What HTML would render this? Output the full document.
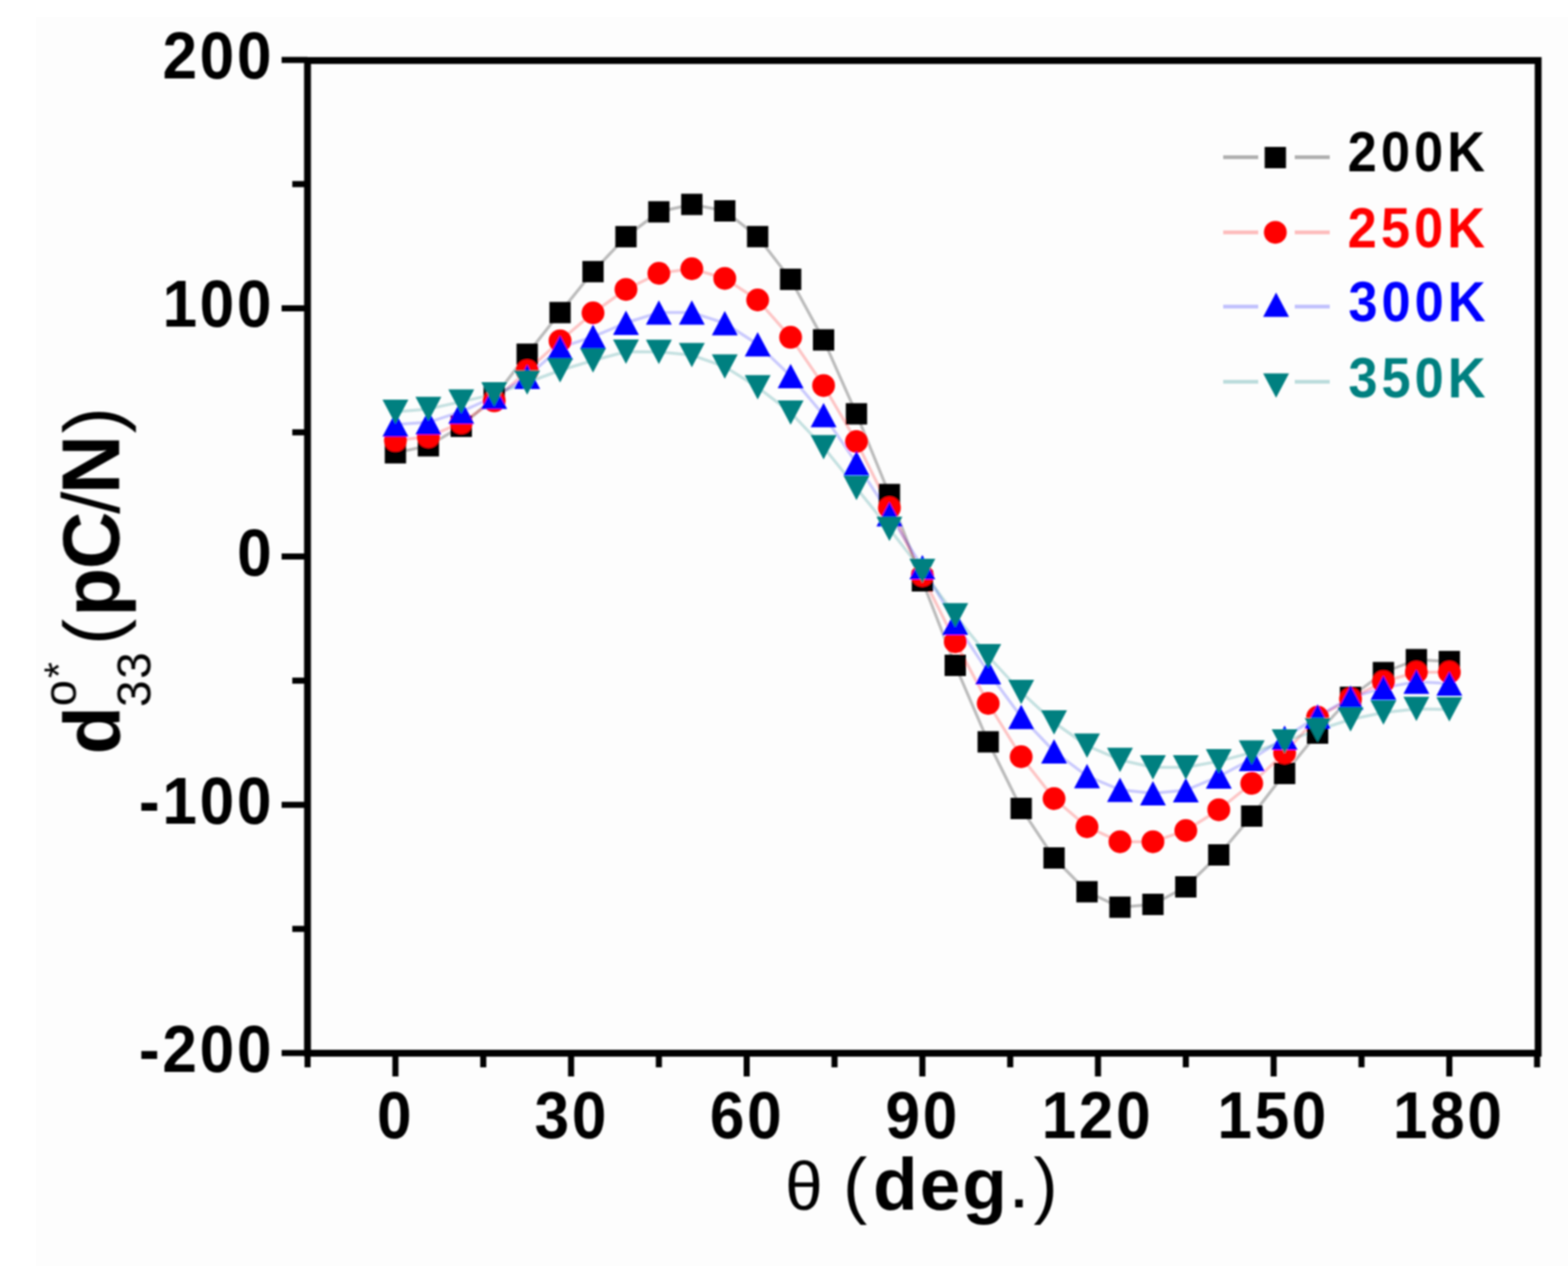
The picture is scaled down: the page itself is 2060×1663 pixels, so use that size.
<!DOCTYPE html>
<html><head><meta charset="utf-8"><title>d33 vs theta</title>
<style>html,body{margin:0;padding:0;background:#fdfdfd;}svg{display:block;}</style>
</head><body>
<svg width="2060" height="1663" viewBox="0 0 2060 1663">
<rect x="0" y="0" width="2060" height="1663" fill="#ffffff"/>
<rect x="47" y="22" width="2013" height="1641" fill="#fdfdfd"/>
<defs><filter id="soft" x="-2%" y="-2%" width="104%" height="104%"><feGaussianBlur stdDeviation="1.2"/></filter></defs>
<g filter="url(#soft)">
<polyline points="519.5,594.8 562.8,585.6 606,560 649.3,522 692.6,465.3 735.8,410.6 779.1,356.8 822.4,310.9 865.6,278.3 908.9,268.5 952.2,277 995.4,310.8 1038.7,366.9 1082,446.5 1125.2,543.6 1168.5,649.6 1211.8,763 1255,874 1298.3,974.5 1341.6,1062 1384.8,1127 1428.1,1171.4 1471.4,1191.7 1514.7,1188 1557.9,1165 1601.2,1123 1644.5,1072 1687.7,1016 1731,963 1774.3,916 1817.5,883.5 1860.8,866.5 1904.1,869" fill="none" stroke="#000000" stroke-opacity="0.26" stroke-width="4" stroke-linejoin="round"/>
<polyline points="519.5,578.6 562.8,573.7 606,555.3 649.3,526.6 692.6,487 735.8,447.7 779.1,411 822.4,380.2 865.6,359 908.9,353 952.2,365.7 995.4,394 1038.7,443.1 1082,506.4 1125.2,580 1168.5,667 1211.8,756 1255,843 1298.3,924 1341.6,994 1384.8,1049 1428.1,1086 1471.4,1105.7 1514.7,1105.7 1557.9,1091 1601.2,1063.7 1644.5,1029 1687.7,989 1731,942 1774.3,918 1817.5,895.5 1860.8,883 1904.1,883" fill="none" stroke="#ff0000" stroke-opacity="0.22" stroke-width="4" stroke-linejoin="round"/>
<polyline points="519.5,557.5 562.8,554.8 606,540.7 649.3,521.2 692.6,495 735.8,456.7 779.1,442.3 822.4,424 865.6,410.6 908.9,410.6 952.2,424.5 995.4,452.3 1038.7,493.9 1082,545.2 1125.2,608.4 1168.5,675.5 1211.8,745 1255,818 1298.3,883 1341.6,941.7 1384.8,987 1428.1,1019.4 1471.4,1037.5 1514.7,1042 1557.9,1038 1601.2,1020 1644.5,997 1687.7,969 1731,941 1774.3,916.6 1817.5,903.4 1860.8,895.5 1904.1,898" fill="none" stroke="#0000ff" stroke-opacity="0.2" stroke-width="4" stroke-linejoin="round"/>
<polyline points="519.5,541 562.8,537.3 606,527.6 649.3,517.9 692.6,502.5 735.8,486.5 779.1,473.5 822.4,462 865.6,462.3 908.9,466.5 952.2,481.6 995.4,508.7 1038.7,541.9 1082,587.5 1125.2,641 1168.5,694.7 1211.8,750 1255,808.3 1298.3,862 1341.6,909 1384.8,949 1428.1,979.5 1471.4,998.2 1514.7,1008 1557.9,1008 1601.2,1000 1644.5,988.5 1687.7,974 1731,959 1774.3,945 1817.5,936 1860.8,931.3 1904.1,931.8" fill="none" stroke="#008080" stroke-opacity="0.22" stroke-width="4" stroke-linejoin="round"/>
<rect x="505.5" y="580.8" width="28" height="28" fill="#000000"/>
<rect x="548.8" y="571.6" width="28" height="28" fill="#000000"/>
<rect x="592" y="546" width="28" height="28" fill="#000000"/>
<rect x="635.3" y="508" width="28" height="28" fill="#000000"/>
<rect x="678.6" y="451.3" width="28" height="28" fill="#000000"/>
<rect x="721.8" y="396.6" width="28" height="28" fill="#000000"/>
<rect x="765.1" y="342.8" width="28" height="28" fill="#000000"/>
<rect x="808.4" y="296.9" width="28" height="28" fill="#000000"/>
<rect x="851.6" y="264.3" width="28" height="28" fill="#000000"/>
<rect x="894.9" y="254.5" width="28" height="28" fill="#000000"/>
<rect x="938.2" y="263" width="28" height="28" fill="#000000"/>
<rect x="981.4" y="296.8" width="28" height="28" fill="#000000"/>
<rect x="1024.7" y="352.9" width="28" height="28" fill="#000000"/>
<rect x="1068" y="432.5" width="28" height="28" fill="#000000"/>
<rect x="1111.2" y="529.6" width="28" height="28" fill="#000000"/>
<rect x="1154.5" y="635.6" width="28" height="28" fill="#000000"/>
<rect x="1197.8" y="749" width="28" height="28" fill="#000000"/>
<rect x="1241" y="860" width="28" height="28" fill="#000000"/>
<rect x="1284.3" y="960.5" width="28" height="28" fill="#000000"/>
<rect x="1327.6" y="1048" width="28" height="28" fill="#000000"/>
<rect x="1370.8" y="1113" width="28" height="28" fill="#000000"/>
<rect x="1414.1" y="1157.4" width="28" height="28" fill="#000000"/>
<rect x="1457.4" y="1177.7" width="28" height="28" fill="#000000"/>
<rect x="1500.7" y="1174" width="28" height="28" fill="#000000"/>
<rect x="1543.9" y="1151" width="28" height="28" fill="#000000"/>
<rect x="1587.2" y="1109" width="28" height="28" fill="#000000"/>
<rect x="1630.5" y="1058" width="28" height="28" fill="#000000"/>
<rect x="1673.7" y="1002" width="28" height="28" fill="#000000"/>
<rect x="1717" y="949" width="28" height="28" fill="#000000"/>
<rect x="1760.3" y="902" width="28" height="28" fill="#000000"/>
<rect x="1803.5" y="869.5" width="28" height="28" fill="#000000"/>
<rect x="1846.8" y="852.5" width="28" height="28" fill="#000000"/>
<rect x="1890.1" y="855" width="28" height="28" fill="#000000"/>
<circle cx="519.5" cy="578.6" r="15" fill="#ff0000"/>
<circle cx="562.8" cy="573.7" r="15" fill="#ff0000"/>
<circle cx="606" cy="555.3" r="15" fill="#ff0000"/>
<circle cx="649.3" cy="526.6" r="15" fill="#ff0000"/>
<circle cx="692.6" cy="487" r="15" fill="#ff0000"/>
<circle cx="735.8" cy="447.7" r="15" fill="#ff0000"/>
<circle cx="779.1" cy="411" r="15" fill="#ff0000"/>
<circle cx="822.4" cy="380.2" r="15" fill="#ff0000"/>
<circle cx="865.6" cy="359" r="15" fill="#ff0000"/>
<circle cx="908.9" cy="353" r="15" fill="#ff0000"/>
<circle cx="952.2" cy="365.7" r="15" fill="#ff0000"/>
<circle cx="995.4" cy="394" r="15" fill="#ff0000"/>
<circle cx="1038.7" cy="443.1" r="15" fill="#ff0000"/>
<circle cx="1082" cy="506.4" r="15" fill="#ff0000"/>
<circle cx="1125.2" cy="580" r="15" fill="#ff0000"/>
<circle cx="1168.5" cy="667" r="15" fill="#ff0000"/>
<circle cx="1211.8" cy="756" r="15" fill="#ff0000"/>
<circle cx="1255" cy="843" r="15" fill="#ff0000"/>
<circle cx="1298.3" cy="924" r="15" fill="#ff0000"/>
<circle cx="1341.6" cy="994" r="15" fill="#ff0000"/>
<circle cx="1384.8" cy="1049" r="15" fill="#ff0000"/>
<circle cx="1428.1" cy="1086" r="15" fill="#ff0000"/>
<circle cx="1471.4" cy="1105.7" r="15" fill="#ff0000"/>
<circle cx="1514.7" cy="1105.7" r="15" fill="#ff0000"/>
<circle cx="1557.9" cy="1091" r="15" fill="#ff0000"/>
<circle cx="1601.2" cy="1063.7" r="15" fill="#ff0000"/>
<circle cx="1644.5" cy="1029" r="15" fill="#ff0000"/>
<circle cx="1687.7" cy="989" r="15" fill="#ff0000"/>
<circle cx="1731" cy="942" r="15" fill="#ff0000"/>
<circle cx="1774.3" cy="918" r="15" fill="#ff0000"/>
<circle cx="1817.5" cy="895.5" r="15" fill="#ff0000"/>
<circle cx="1860.8" cy="883" r="15" fill="#ff0000"/>
<circle cx="1904.1" cy="883" r="15" fill="#ff0000"/>
<polygon points="519.5,541.5 536.5,573.5 502.5,573.5" fill="#0000ff"/>
<polygon points="562.8,538.8 579.8,570.8 545.8,570.8" fill="#0000ff"/>
<polygon points="606,524.7 623,556.7 589,556.7" fill="#0000ff"/>
<polygon points="649.3,505.2 666.3,537.2 632.3,537.2" fill="#0000ff"/>
<polygon points="692.6,479 709.6,511 675.6,511" fill="#0000ff"/>
<polygon points="735.8,440.7 752.8,472.7 718.8,472.7" fill="#0000ff"/>
<polygon points="779.1,426.3 796.1,458.3 762.1,458.3" fill="#0000ff"/>
<polygon points="822.4,408 839.4,440 805.4,440" fill="#0000ff"/>
<polygon points="865.6,394.6 882.6,426.6 848.6,426.6" fill="#0000ff"/>
<polygon points="908.9,394.6 925.9,426.6 891.9,426.6" fill="#0000ff"/>
<polygon points="952.2,408.5 969.2,440.5 935.2,440.5" fill="#0000ff"/>
<polygon points="995.4,436.3 1012.4,468.3 978.4,468.3" fill="#0000ff"/>
<polygon points="1038.7,477.9 1055.7,509.9 1021.7,509.9" fill="#0000ff"/>
<polygon points="1082,529.2 1099,561.2 1065,561.2" fill="#0000ff"/>
<polygon points="1125.2,592.4 1142.2,624.4 1108.2,624.4" fill="#0000ff"/>
<polygon points="1168.5,659.5 1185.5,691.5 1151.5,691.5" fill="#0000ff"/>
<polygon points="1211.8,729 1228.8,761 1194.8,761" fill="#0000ff"/>
<polygon points="1255,802 1272,834 1238,834" fill="#0000ff"/>
<polygon points="1298.3,867 1315.3,899 1281.3,899" fill="#0000ff"/>
<polygon points="1341.6,925.7 1358.6,957.7 1324.6,957.7" fill="#0000ff"/>
<polygon points="1384.8,971 1401.8,1003 1367.8,1003" fill="#0000ff"/>
<polygon points="1428.1,1003.4 1445.1,1035.4 1411.1,1035.4" fill="#0000ff"/>
<polygon points="1471.4,1021.5 1488.4,1053.5 1454.4,1053.5" fill="#0000ff"/>
<polygon points="1514.7,1026 1531.7,1058 1497.7,1058" fill="#0000ff"/>
<polygon points="1557.9,1022 1574.9,1054 1540.9,1054" fill="#0000ff"/>
<polygon points="1601.2,1004 1618.2,1036 1584.2,1036" fill="#0000ff"/>
<polygon points="1644.5,981 1661.5,1013 1627.5,1013" fill="#0000ff"/>
<polygon points="1687.7,953 1704.7,985 1670.7,985" fill="#0000ff"/>
<polygon points="1731,925 1748,957 1714,957" fill="#0000ff"/>
<polygon points="1774.3,900.6 1791.3,932.6 1757.3,932.6" fill="#0000ff"/>
<polygon points="1817.5,887.4 1834.5,919.4 1800.5,919.4" fill="#0000ff"/>
<polygon points="1860.8,879.5 1877.8,911.5 1843.8,911.5" fill="#0000ff"/>
<polygon points="1904.1,882 1921.1,914 1887.1,914" fill="#0000ff"/>
<polygon points="502.5,525 536.5,525 519.5,557" fill="#008080"/>
<polygon points="545.8,521.3 579.8,521.3 562.8,553.3" fill="#008080"/>
<polygon points="589,511.6 623,511.6 606,543.6" fill="#008080"/>
<polygon points="632.3,501.9 666.3,501.9 649.3,533.9" fill="#008080"/>
<polygon points="675.6,486.5 709.6,486.5 692.6,518.5" fill="#008080"/>
<polygon points="718.8,470.5 752.8,470.5 735.8,502.5" fill="#008080"/>
<polygon points="762.1,457.5 796.1,457.5 779.1,489.5" fill="#008080"/>
<polygon points="805.4,446 839.4,446 822.4,478" fill="#008080"/>
<polygon points="848.6,446.3 882.6,446.3 865.6,478.3" fill="#008080"/>
<polygon points="891.9,450.5 925.9,450.5 908.9,482.5" fill="#008080"/>
<polygon points="935.2,465.6 969.2,465.6 952.2,497.6" fill="#008080"/>
<polygon points="978.4,492.7 1012.4,492.7 995.4,524.7" fill="#008080"/>
<polygon points="1021.7,525.9 1055.7,525.9 1038.7,557.9" fill="#008080"/>
<polygon points="1065,571.5 1099,571.5 1082,603.5" fill="#008080"/>
<polygon points="1108.2,625 1142.2,625 1125.2,657" fill="#008080"/>
<polygon points="1151.5,678.7 1185.5,678.7 1168.5,710.7" fill="#008080"/>
<polygon points="1194.8,734 1228.8,734 1211.8,766" fill="#008080"/>
<polygon points="1238,792.3 1272,792.3 1255,824.3" fill="#008080"/>
<polygon points="1281.3,846 1315.3,846 1298.3,878" fill="#008080"/>
<polygon points="1324.6,893 1358.6,893 1341.6,925" fill="#008080"/>
<polygon points="1367.8,933 1401.8,933 1384.8,965" fill="#008080"/>
<polygon points="1411.1,963.5 1445.1,963.5 1428.1,995.5" fill="#008080"/>
<polygon points="1454.4,982.2 1488.4,982.2 1471.4,1014.2" fill="#008080"/>
<polygon points="1497.7,992 1531.7,992 1514.7,1024" fill="#008080"/>
<polygon points="1540.9,992 1574.9,992 1557.9,1024" fill="#008080"/>
<polygon points="1584.2,984 1618.2,984 1601.2,1016" fill="#008080"/>
<polygon points="1627.5,972.5 1661.5,972.5 1644.5,1004.5" fill="#008080"/>
<polygon points="1670.7,958 1704.7,958 1687.7,990" fill="#008080"/>
<polygon points="1714,943 1748,943 1731,975" fill="#008080"/>
<polygon points="1757.3,929 1791.3,929 1774.3,961" fill="#008080"/>
<polygon points="1800.5,920 1834.5,920 1817.5,952" fill="#008080"/>
<polygon points="1843.8,915.3 1877.8,915.3 1860.8,947.3" fill="#008080"/>
<polygon points="1887.1,915.8 1921.1,915.8 1904.1,947.8" fill="#008080"/>
<rect x="404.0" y="79.5" width="1616.8" height="1304" fill="none" stroke="#000" stroke-width="9"/>
<line x1="370" y1="78.7" x2="404.0" y2="78.7" stroke="#000" stroke-width="8"/>
<line x1="370" y1="404.9" x2="404.0" y2="404.9" stroke="#000" stroke-width="8"/>
<line x1="370" y1="731" x2="404.0" y2="731" stroke="#000" stroke-width="8"/>
<line x1="370" y1="1057.2" x2="404.0" y2="1057.2" stroke="#000" stroke-width="8"/>
<line x1="370" y1="1383.3" x2="404.0" y2="1383.3" stroke="#000" stroke-width="8"/>
<line x1="384" y1="241.8" x2="404.0" y2="241.8" stroke="#000" stroke-width="8"/>
<line x1="384" y1="567.9" x2="404.0" y2="567.9" stroke="#000" stroke-width="8"/>
<line x1="384" y1="894.1" x2="404.0" y2="894.1" stroke="#000" stroke-width="8"/>
<line x1="384" y1="1220.2" x2="404.0" y2="1220.2" stroke="#000" stroke-width="8"/>
<line x1="519.5" y1="1383.5" x2="519.5" y2="1414" stroke="#000" stroke-width="8"/>
<line x1="750.3" y1="1383.5" x2="750.3" y2="1414" stroke="#000" stroke-width="8"/>
<line x1="981" y1="1383.5" x2="981" y2="1414" stroke="#000" stroke-width="8"/>
<line x1="1211.8" y1="1383.5" x2="1211.8" y2="1414" stroke="#000" stroke-width="8"/>
<line x1="1442.5" y1="1383.5" x2="1442.5" y2="1414" stroke="#000" stroke-width="8"/>
<line x1="1673.3" y1="1383.5" x2="1673.3" y2="1414" stroke="#000" stroke-width="8"/>
<line x1="1904.1" y1="1383.5" x2="1904.1" y2="1414" stroke="#000" stroke-width="8"/>
<line x1="404.1" y1="1383.5" x2="404.1" y2="1402" stroke="#000" stroke-width="8"/>
<line x1="634.9" y1="1383.5" x2="634.9" y2="1402" stroke="#000" stroke-width="8"/>
<line x1="865.6" y1="1383.5" x2="865.6" y2="1402" stroke="#000" stroke-width="8"/>
<line x1="1096.4" y1="1383.5" x2="1096.4" y2="1402" stroke="#000" stroke-width="8"/>
<line x1="1327.2" y1="1383.5" x2="1327.2" y2="1402" stroke="#000" stroke-width="8"/>
<line x1="1557.9" y1="1383.5" x2="1557.9" y2="1402" stroke="#000" stroke-width="8"/>
<line x1="1788.7" y1="1383.5" x2="1788.7" y2="1402" stroke="#000" stroke-width="8"/>
<line x1="2019.4" y1="1383.5" x2="2019.4" y2="1402" stroke="#000" stroke-width="8"/>
<text transform="translate(213.4,103.2) scale(0.94,1)" x="0" y="0" font-family='"Liberation Sans", sans-serif' font-weight="bold" font-size="87" letter-spacing="3.7" fill="#000">200</text>
<text transform="translate(213.4,429.4) scale(0.94,1)" x="0" y="0" font-family='"Liberation Sans", sans-serif' font-weight="bold" font-size="87" letter-spacing="3.7" fill="#000">100</text>
<text transform="translate(311.4,755.5) scale(0.94,1)" x="0" y="0" font-family='"Liberation Sans", sans-serif' font-weight="bold" font-size="87" letter-spacing="3.7" fill="#000">0</text>
<text transform="translate(182.6,1081.7) scale(0.94,1)" x="0" y="0" font-family='"Liberation Sans", sans-serif' font-weight="bold" font-size="87" letter-spacing="3.7" fill="#000">-100</text>
<text transform="translate(182.6,1407.8) scale(0.94,1)" x="0" y="0" font-family='"Liberation Sans", sans-serif' font-weight="bold" font-size="87" letter-spacing="3.7" fill="#000">-200</text>
<text transform="translate(495.3,1495.3) scale(0.94,1)" x="0" y="0" font-family='"Liberation Sans", sans-serif' font-weight="bold" font-size="87" letter-spacing="3.7" fill="#000">0</text>
<text transform="translate(702.3,1495.3) scale(0.94,1)" x="0" y="0" font-family='"Liberation Sans", sans-serif' font-weight="bold" font-size="87" letter-spacing="3.7" fill="#000">30</text>
<text transform="translate(932.5,1495.3) scale(0.94,1)" x="0" y="0" font-family='"Liberation Sans", sans-serif' font-weight="bold" font-size="87" letter-spacing="3.7" fill="#000">60</text>
<text transform="translate(1163.3,1495.3) scale(0.94,1)" x="0" y="0" font-family='"Liberation Sans", sans-serif' font-weight="bold" font-size="87" letter-spacing="3.7" fill="#000">90</text>
<text transform="translate(1368.4,1495.3) scale(0.94,1)" x="0" y="0" font-family='"Liberation Sans", sans-serif' font-weight="bold" font-size="87" letter-spacing="3.7" fill="#000">120</text>
<text transform="translate(1599.2,1495.3) scale(0.94,1)" x="0" y="0" font-family='"Liberation Sans", sans-serif' font-weight="bold" font-size="87" letter-spacing="3.7" fill="#000">150</text>
<text transform="translate(1829.9,1495.3) scale(0.94,1)" x="0" y="0" font-family='"Liberation Sans", sans-serif' font-weight="bold" font-size="87" letter-spacing="3.7" fill="#000">180</text>
<text y="1589" font-family='"Liberation Sans", sans-serif' font-size="95.7" fill="#000"><tspan x="1031.4" font-size="88.6">θ</tspan> <tspan x="1107.4">(</tspan><tspan x="1147.1" font-size="96" font-weight="bold" letter-spacing="2.5">deg</tspan><tspan x="1328.9" y="1586" font-size="70" font-weight="bold">.</tspan><tspan x="1357.8" y="1589">)</tspan></text>
<g transform="translate(156.5,989) rotate(-90)">
<text y="0" font-family='"Liberation Sans", sans-serif' font-size="104" fill="#000"><tspan x="-2.1" y="0" font-weight="bold">d</tspan><tspan x="61.3" y="-56.6" font-size="62">o</tspan><tspan x="98.3" y="-60.8" font-size="54">*</tspan><tspan x="60.2" y="41" font-size="63" letter-spacing="1.9">33</tspan> <tspan x="141.6" y="0">(</tspan><tspan x="179.1" y="0" font-size="105" font-weight="bold" letter-spacing="-2">pC</tspan><tspan x="314" y="0" font-size="105">/</tspan><tspan x="339.8" y="0" font-size="108" font-weight="bold">N</tspan><tspan x="419.8" y="0">)</tspan></text>
</g>
<line x1="1607" y1="206.6" x2="1653" y2="206.6" stroke="#000000" stroke-opacity="0.3" stroke-width="5"/>
<line x1="1701" y1="206.6" x2="1747" y2="206.6" stroke="#000000" stroke-opacity="0.3" stroke-width="5"/>
<rect x="1661.5" y="193" width="28" height="28" fill="#000000"/>
<text transform="translate(1770.6,225.3) scale(0.93,1)" x="0" y="0" font-family='"Liberation Sans", sans-serif' font-weight="bold" font-size="74" letter-spacing="5.7" fill="#000000">200K</text>
<line x1="1607" y1="305.2" x2="1653" y2="305.2" stroke="#ff0000" stroke-opacity="0.26" stroke-width="5"/>
<line x1="1701" y1="305.2" x2="1747" y2="305.2" stroke="#ff0000" stroke-opacity="0.26" stroke-width="5"/>
<circle cx="1675.5" cy="305.2" r="15" fill="#ff0000"/>
<text transform="translate(1770.6,324.5) scale(0.93,1)" x="0" y="0" font-family='"Liberation Sans", sans-serif' font-weight="bold" font-size="74" letter-spacing="5.7" fill="#ff0000">250K</text>
<line x1="1607" y1="402.8" x2="1653" y2="402.8" stroke="#0000ff" stroke-opacity="0.24000000000000002" stroke-width="5"/>
<line x1="1701" y1="402.8" x2="1747" y2="402.8" stroke="#0000ff" stroke-opacity="0.24000000000000002" stroke-width="5"/>
<polygon points="1676.5,384.3 1693.5,416.3 1659.5,416.3" fill="#0000ff"/>
<text transform="translate(1771.4,422.3) scale(0.93,1)" x="0" y="0" font-family='"Liberation Sans", sans-serif' font-weight="bold" font-size="74" letter-spacing="5.7" fill="#0000ff">300K</text>
<line x1="1607" y1="501.5" x2="1653" y2="501.5" stroke="#008080" stroke-opacity="0.26" stroke-width="5"/>
<line x1="1701" y1="501.5" x2="1747" y2="501.5" stroke="#008080" stroke-opacity="0.26" stroke-width="5"/>
<polygon points="1659.5,490.5 1693.5,490.5 1676.5,522.5" fill="#008080"/>
<text transform="translate(1771.4,521.5) scale(0.93,1)" x="0" y="0" font-family='"Liberation Sans", sans-serif' font-weight="bold" font-size="74" letter-spacing="5.7" fill="#008080">350K</text>
</g>
</svg>
</body></html>
